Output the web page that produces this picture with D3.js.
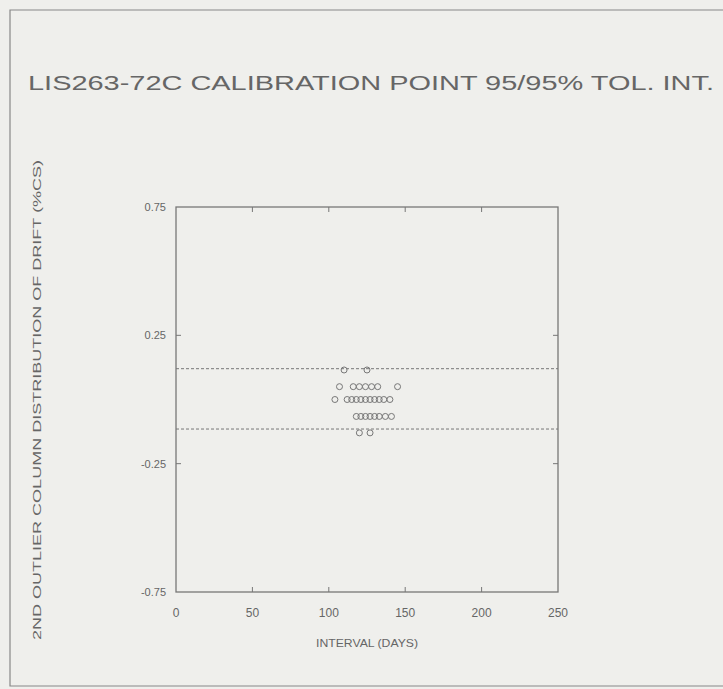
<!DOCTYPE html>
<html>
<head>
<meta charset="utf-8">
<title>LIS263-72C calibration point</title>
<style>
  body { margin: 0; background: #efefec; }
  text { font-family: "Liberation Sans", Arial, sans-serif; fill: #666; }
</style>
</head>
<body>
<script src="https://d3js.org/d3.v7.min.js"></script>
<script>
var width = 723, height = 689;

// data
var xTicks = [0, 50, 100, 150, 200, 250];
var yTicks = [0.75, 0.25, -0.25, -0.75];
var yTickLabels = ["0.75", "0.25", "-0.25", "-0.75"];
var tolUpper = 0.12;
var tolLower = -0.115;
var intervals = [110, 125,
                 107, 116, 120, 124, 128, 132, 145,
                 104, 112, 115, 118, 121, 124, 127, 130, 133, 136, 140,
                 118, 121, 124, 127, 130, 133, 137, 141,
                 120, 127];
var drifts = [0.115, 0.115,
              0.05, 0.05, 0.05, 0.05, 0.05, 0.05, 0.05,
              0, 0, 0, 0, 0, 0, 0, 0, 0, 0, 0,
              -0.066, -0.066, -0.066, -0.066, -0.066, -0.066, -0.066, -0.066,
              -0.13, -0.13];

var svg = d3.select("body").append("svg")
    .attr("width", width).attr("height", height);

// outer frame of the page
svg.append("path")
    .attr("d", "M723,10 L10,10 L10,686 L723,686")
    .attr("fill", "none").attr("stroke", "#888").attr("stroke-width", 1.2);

var x = d3.scaleLinear().domain([0, 250]).range([176, 558]);
var y = d3.scaleLinear().domain([-0.75, 0.75]).range([592, 207]);

// plot box
svg.append("rect")
    .attr("x", x(0)).attr("y", y(0.75))
    .attr("width", x(250) - x(0)).attr("height", y(-0.75) - y(0.75))
    .attr("fill", "none").attr("stroke", "#777").attr("stroke-width", 1.3);

// inward ticks
var inner = xTicks.slice(1, -1);
svg.selectAll(".xtb").data(inner).enter().append("line")
    .attr("x1", x).attr("x2", x).attr("y1", y(-0.75)).attr("y2", y(-0.75) - 5)
    .attr("stroke", "#777");
svg.selectAll(".xtt").data(inner).enter().append("line")
    .attr("x1", x).attr("x2", x).attr("y1", y(0.75)).attr("y2", y(0.75) + 5)
    .attr("stroke", "#777");
var yInner = yTicks.slice(1, -1);
svg.selectAll(".ytl").data(yInner).enter().append("line")
    .attr("x1", x(0)).attr("x2", x(0) + 5).attr("y1", y).attr("y2", y)
    .attr("stroke", "#777");
svg.selectAll(".ytr").data(yInner).enter().append("line")
    .attr("x1", x(250)).attr("x2", x(250) - 5).attr("y1", y).attr("y2", y)
    .attr("stroke", "#777");

// tick labels
svg.selectAll(".xl").data(xTicks).enter().append("text")
    .attr("x", x).attr("y", 617)
    .attr("text-anchor", "middle").style("font-size", "12px")
    .text(function(d) { return d; });
svg.selectAll(".yl").data(yTicks).enter().append("text")
    .attr("x", 166).attr("y", function(d) { return y(d) + 4; })
    .attr("text-anchor", "end").style("font-size", "11px")
    .text(function(d, i) { return yTickLabels[i]; });

// tolerance limits
[tolUpper, tolLower].forEach(function(v) {
  svg.append("line")
      .attr("x1", x(0)).attr("x2", x(250)).attr("y1", y(v)).attr("y2", y(v))
      .attr("stroke", "#777").attr("stroke-dasharray", "3,2");
});

// points
svg.selectAll("circle").data(intervals).enter().append("circle")
    .attr("cx", function(d) { return x(d); })
    .attr("cy", function(d, i) { return y(drifts[i]); })
    .attr("r", 3)
    .attr("fill", "none").attr("stroke", "#777").attr("stroke-width", 1);

// titles
svg.append("text")
    .attr("x", 28).attr("y", 90)
    .attr("textLength", 686).attr("lengthAdjust", "spacingAndGlyphs")
    .style("font-size", "20px")
    .text("LIS263-72C CALIBRATION POINT 95/95% TOL. INT.");

svg.append("text")
    .attr("x", 367).attr("y", 647).attr("text-anchor", "middle")
    .attr("textLength", 102).attr("lengthAdjust", "spacingAndGlyphs")
    .style("font-size", "11px")
    .text("INTERVAL (DAYS)");

svg.append("text")
    .attr("transform", "translate(41,400) rotate(-90)")
    .attr("text-anchor", "middle")
    .attr("textLength", 480).attr("lengthAdjust", "spacingAndGlyphs")
    .style("font-size", "11px")
    .text("2ND OUTLIER COLUMN DISTRIBUTION OF DRIFT (%CS)");
</script>
</body>
</html>
